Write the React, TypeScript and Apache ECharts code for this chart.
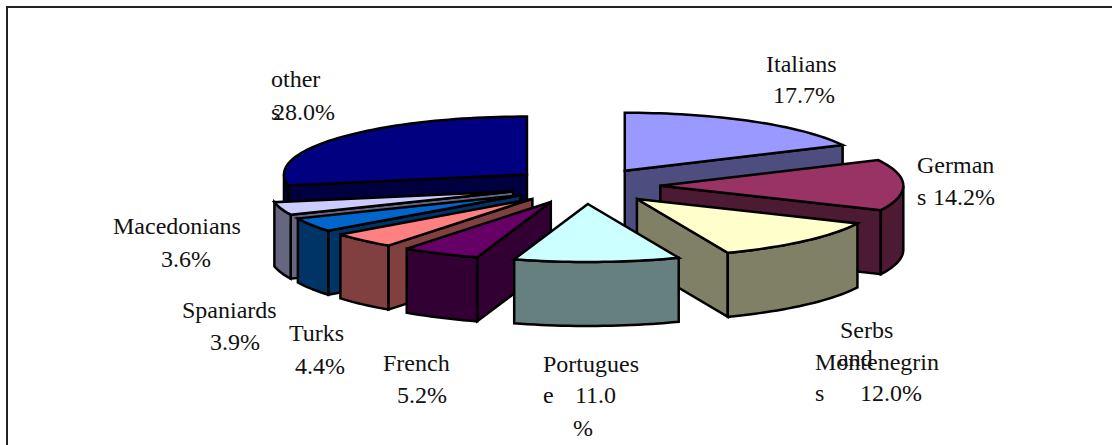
import React, { useEffect, useRef } from "react";
import * as echarts from "echarts";

const categories = ["Italians", "Germans", "Serbs and Montenegrins", "Portuguese", "French", "Turks", "Spaniards", "Macedonians", "other"];
const values = [17.7, 14.2, 12.0, 11.0, 5.2, 4.4, 3.9, 3.6, 28.0];
const topColors = ["#9999FF", "#993366", "#FFFFCC", "#CCFFFF", "#660066", "#FF8080", "#0066CC", "#CCCCFF", "#000080"];
const wallColors = ["#4D4D80", "#4D1A33", "#808066", "#668080", "#330033", "#804040", "#003366", "#666680", "#000040"];
// painter's order, back to front (indices into categories)
const drawOrder = [8, 0, 1, 7, 6, 5, 4, 2, 3];

const labelPieces = [
  { text: "Italians", x: 766, y: 64 },
  { text: "17.7%", x: 773, y: 95 },
  { text: "German", x: 917, y: 165 },
  { text: "s", x: 917, y: 197 },
  { text: "14.2%", x: 933, y: 197 },
  { text: "Serbs", x: 840, y: 330 },
  { text: "and", x: 838, y: 358 },
  { text: "Montenegrin", x: 815, y: 362 },
  { text: "s", x: 815, y: 393 },
  { text: "12.0%", x: 860, y: 393 },
  { text: "Portugues", x: 543, y: 364 },
  { text: "e", x: 543, y: 395 },
  { text: "11.0", x: 575, y: 395 },
  { text: "%", x: 573, y: 428 },
  { text: "French", x: 383, y: 363 },
  { text: "5.2%", x: 397, y: 395 },
  { text: "Turks", x: 289, y: 333 },
  { text: "4.4%", x: 295, y: 366 },
  { text: "Spaniards", x: 182, y: 310 },
  { text: "3.9%", x: 210, y: 342 },
  { text: "Macedonians", x: 113, y: 226 },
  { text: "3.6%", x: 161, y: 259 },
  { text: "other", x: 271, y: 79 },
  { text: "s", x: 271, y: 112 },
  { text: "28.0%", x: 273, y: 112 },
];

const CX = 585;
const CY = 186;
const RX = 243;
const RY = 58;
const DEPTH = 64;
const EXPLODE = 0.31;
const TOTAL = values.reduce((s, v) => s + v, 0);

function sliceAngles(index: number) {
  let before = 0;
  for (let i = 0; i < index; i++) before += values[i];
  return [(before / TOTAL) * 2 * Math.PI, ((before + values[index]) / TOTAL) * 2 * Math.PI];
}

function arcPoints(ox: number, oy: number, from: number, to: number, dy: number) {
  const steps = Math.max(2, Math.ceil(Math.abs(to - from) / 0.03));
  const pts: number[][] = [];
  for (let i = 0; i <= steps; i++) {
    const t = from + ((to - from) * i) / steps;
    pts.push([ox + RX * Math.sin(t), oy - RY * Math.cos(t) + dy]);
  }
  return pts;
}

function renderSlice(params: any) {
  const idx = drawOrder[params.dataIndex];
  const [start, end] = sliceAngles(idx);
  const mid = (start + end) / 2;
  const ox = CX + RX * EXPLODE * Math.sin(mid);
  const oy = CY - RY * EXPLODE * Math.cos(mid);
  const line = { stroke: "#000", lineWidth: 2.5, lineJoin: "miter" };
  const wall = { fill: wallColors[idx], ...line };
  const children: any[] = [];
  const cut = (angle: number) => {
    const p = arcPoints(ox, oy, angle, angle, 0)[0];
    children.push({
      type: "polygon",
      shape: { points: [[ox, oy], p, [p[0], p[1] + DEPTH], [ox, oy + DEPTH]] },
      style: wall,
    });
  };
  // cut faces that look towards the viewer
  if (Math.sin(start) < -1e-6) cut(start);
  if (Math.sin(end) > 1e-6) cut(end);
  // outer rim: the front half of the ellipse only
  const from = Math.max(start, Math.PI / 2);
  const to = Math.min(end, (3 * Math.PI) / 2);
  if (to > from) {
    const upper = arcPoints(ox, oy, from, to, 0);
    const lower = arcPoints(ox, oy, to, from, DEPTH);
    children.push({ type: "polygon", shape: { points: upper.concat(lower) }, style: wall });
  }
  children.push({
    type: "polygon",
    shape: { points: [[ox, oy], ...arcPoints(ox, oy, start, end, 0)] },
    style: { fill: topColors[idx], ...line },
  });
  return { type: "group", children };
}

export default function App() {
  const ref = useRef<HTMLDivElement>(null);
  useEffect(() => {
    document.body.style.margin = "0";
    const chart = echarts.init(ref.current!, undefined, { renderer: "svg" });
    chart.setOption({
      animation: false,
      backgroundColor: "#fff",
      series: [
        {
          type: "custom",
          coordinateSystem: "none",
          silent: true,
          renderItem: renderSlice,
          data: drawOrder.map((i) => ({ name: categories[i], value: values[i] })),
        },
      ],
      graphic: [
        { type: "rect", shape: { x: 6, y: 6, width: 1106, height: 2 }, style: { fill: "#222" } },
        { type: "rect", shape: { x: 6, y: 6, width: 2, height: 439 }, style: { fill: "#222" } },
        ...labelPieces.map((p) => ({
          type: "text",
          x: p.x,
          y: p.y,
          z: 10,
          style: {
            text: p.text,
            fill: "#111",
            font: '24px "Liberation Serif"',
            textAlign: "left",
            textVerticalAlign: "middle",
          },
        })),
      ],
    });
    return () => chart.dispose();
  }, []);
  return <div ref={ref} style={{ width: 1112, height: 445 }} />;
}
